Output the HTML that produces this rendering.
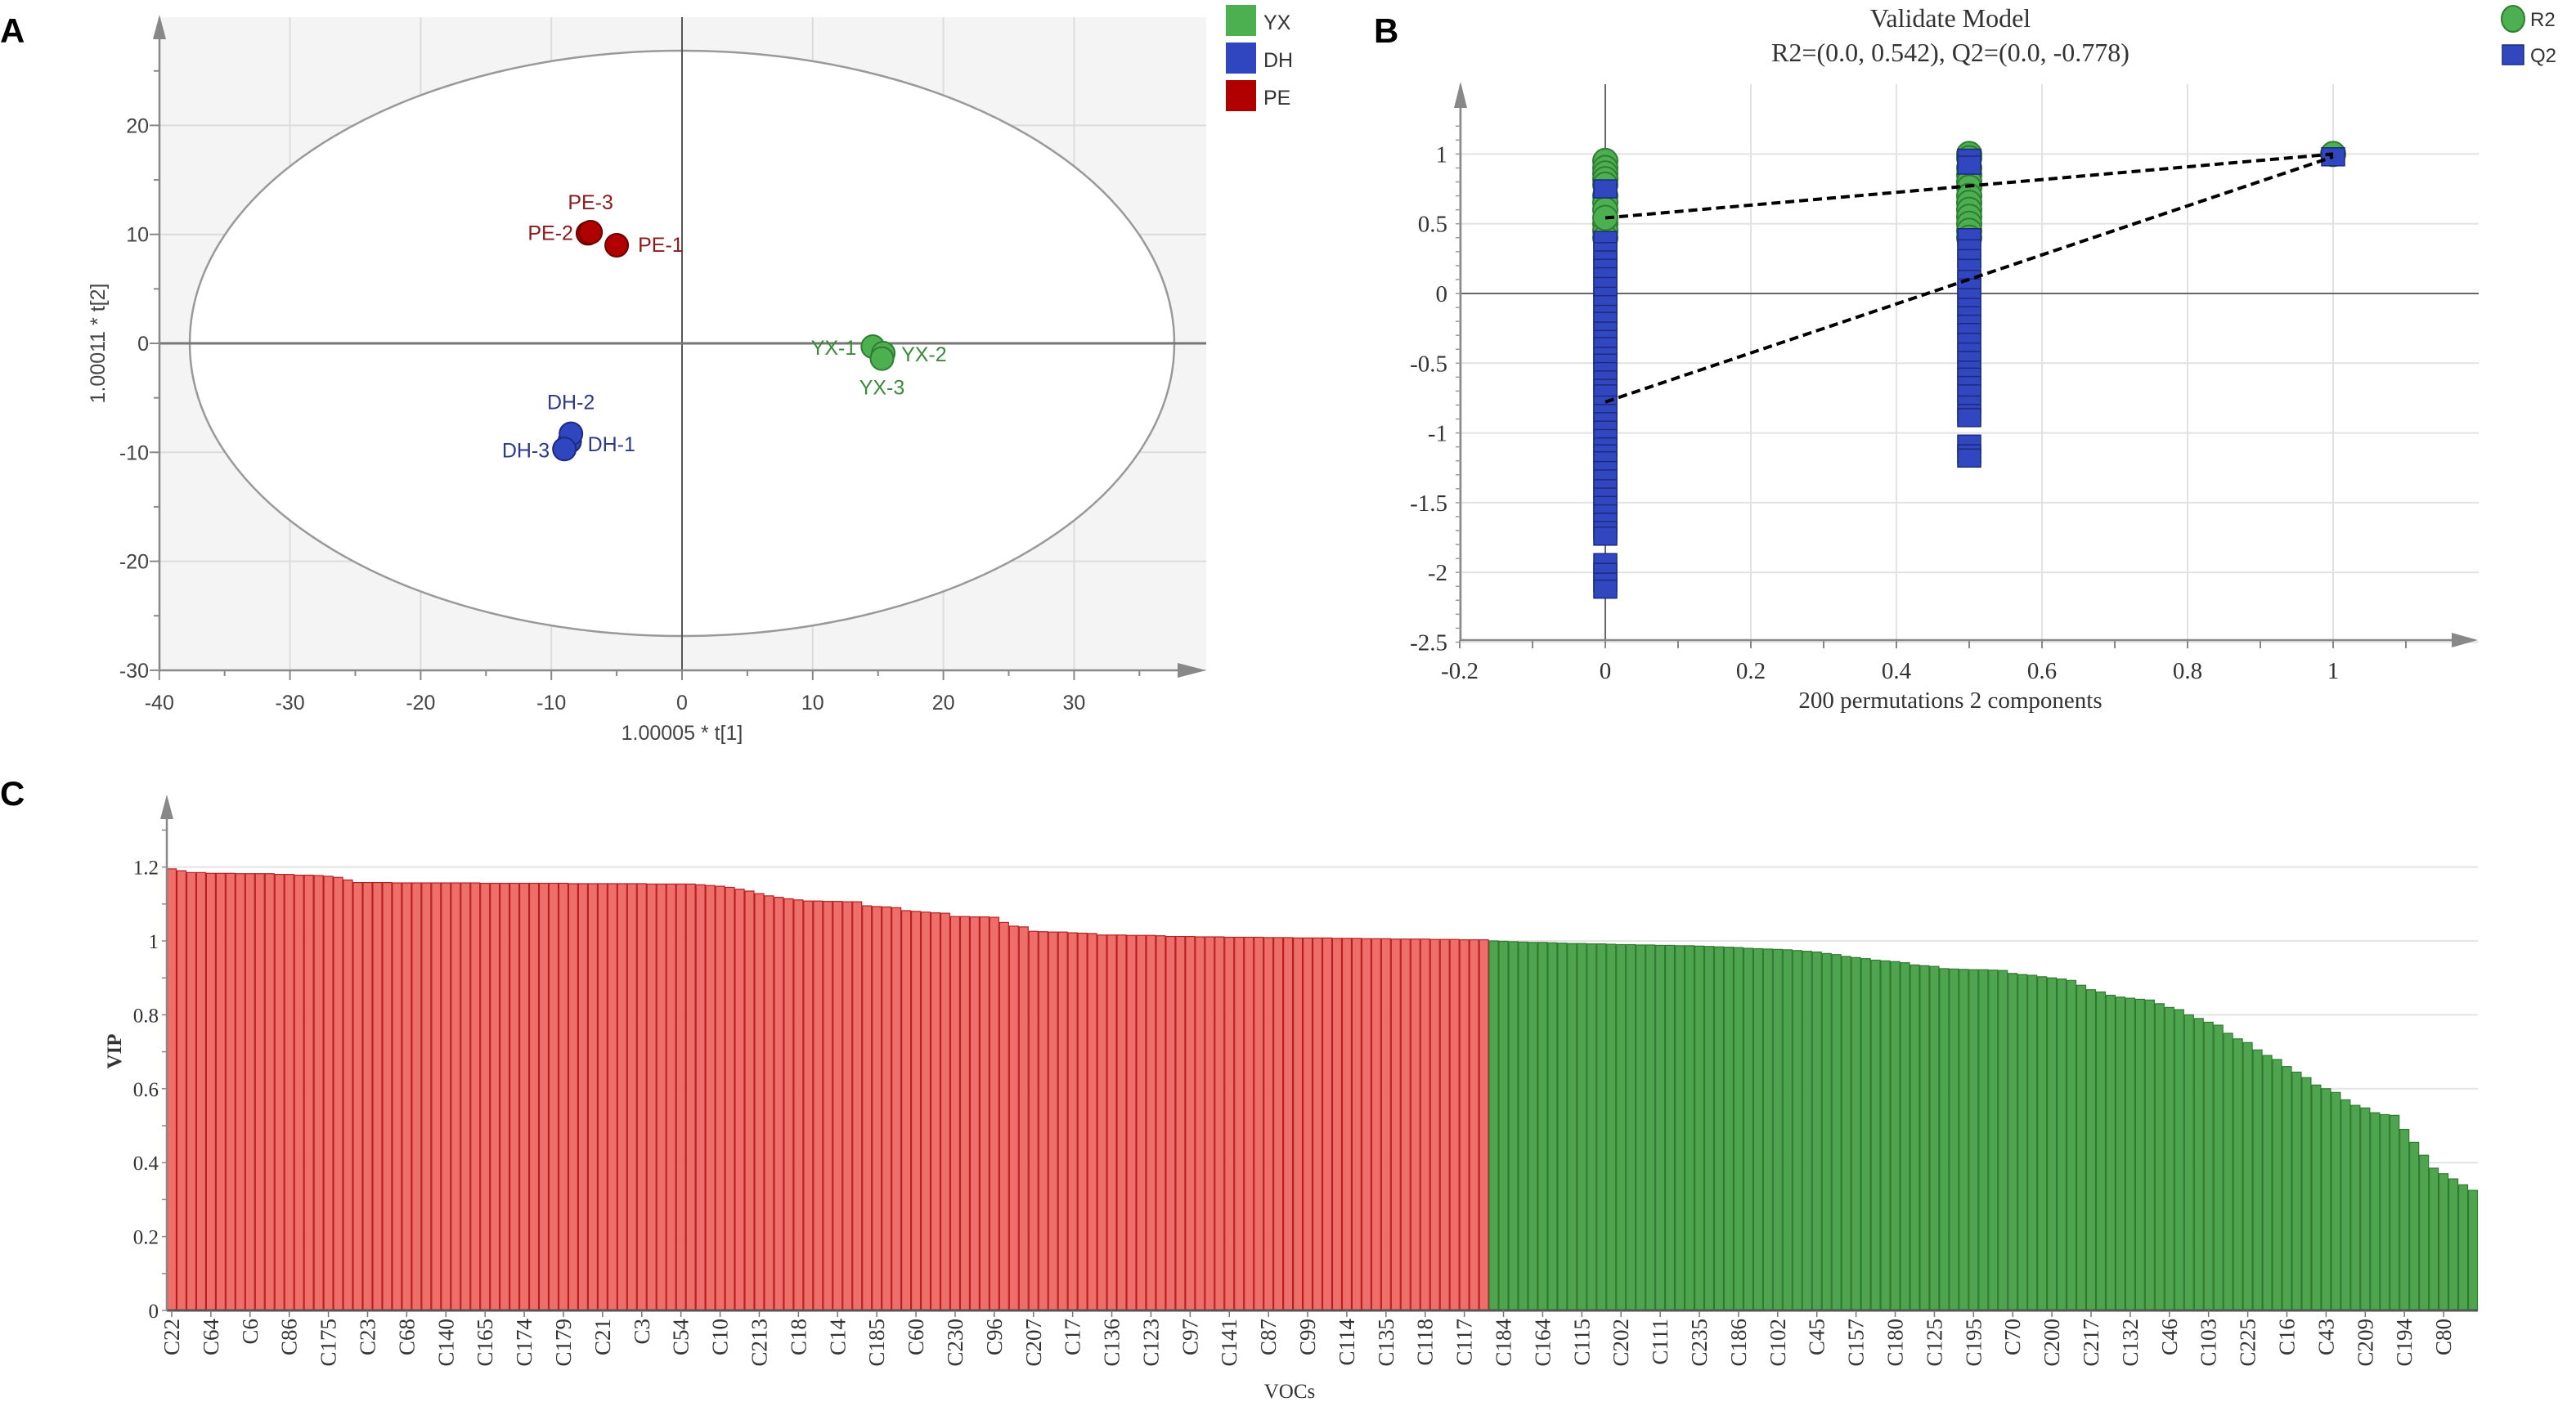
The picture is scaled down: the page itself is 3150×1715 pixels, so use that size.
<!DOCTYPE html>
<html><head><meta charset="utf-8"><style>
html,body{margin:0;padding:0;background:#fff;}
svg{display:block;}
</style></head><body>
<svg id="svg" width="3150" height="1715" viewBox="0 0 3150 1715" xmlns="http://www.w3.org/2000/svg">
<text x="0" y="52" font-family="Liberation Sans, sans-serif" font-weight="bold" font-size="42">A</text>
<text x="1680" y="52" font-family="Liberation Sans, sans-serif" font-weight="bold" font-size="42">B</text>
<text x="0" y="985" font-family="Liberation Sans, sans-serif" font-weight="bold" font-size="42">C</text>
<g id="gA"></g>
<g id="gB"></g>
<g id="gC"></g>
</svg>
<script>
// ---------- Panel A data ----------
const scoreNames = ["PE-1","PE-2","PE-3","DH-1","DH-2","DH-3","YX-1","YX-2","YX-3"];
const scoreT1 = [-5.0,-7.2,-7.0,-8.6,-8.5,-9.0,14.6,15.4,15.3];
const scoreT2 = [9.0,10.1,10.2,-9.0,-8.3,-9.7,-0.3,-0.9,-1.4];
const scoreGroup = ["PE","PE","PE","DH","DH","DH","YX","YX","YX"];
const aXTicks = [-40,-30,-20,-10,0,10,20,30];
const aYTicks = [20,10,0,-10,-20,-30];
const legendA = ["YX","DH","PE"];

// ---------- Panel B data ----------
const r2At0 = [0.95,0.9,0.86,0.82,0.78,0.7,0.65,0.6,0.5,0.45,0.4,0.542];
const q2At0 = [0.75,0.38,0.3,0.24,0.18,0.12,0.05,-0.02,-0.08,-0.15,-0.2,-0.27,-0.33,-0.38,-0.45,-0.5,-0.56,-0.62,-0.68,-0.72,-0.8,-0.86,-0.92,-0.98,-1.04,-1.1,-1.15,-1.2,-1.27,-1.33,-1.4,-1.46,-1.52,-1.58,-1.64,-1.7,-1.74,-1.93,-2.0,-2.07,-2.12];
const r2At05 = [1.0,0.97,0.9,0.85,0.8,0.76,0.7,0.65,0.6,0.55,0.5,0.45,0.4];
const q2At05 = [0.97,0.92,0.4,0.32,0.25,0.18,0.1,0.04,-0.03,-0.1,-0.16,-0.22,-0.28,-0.35,-0.42,-0.48,-0.55,-0.6,-0.66,-0.72,-0.8,-0.86,-0.89,-1.08,-1.15,-1.18];
const r2At1 = [1.0];
const q2At1 = [0.98];
const r2Line = [0.542,1.0];
const q2Line = [-0.778,0.98];
const bXTicks = [-0.2,0,0.2,0.4,0.6,0.8,1];
const bYTicks = [1,0.5,0,-0.5,-1,-1.5,-2,-2.5];

// ---------- Panel C data ----------
const vipValues = [1.195,1.19,
1.185,1.185,1.183,1.183,1.183,1.182,1.182,1.182,1.182,1.18,1.18,1.178,1.178,1.177,1.175,1.172,
1.165,
1.158,1.158,1.158,1.158,1.157,1.157,1.157,1.157,1.157,1.157,1.157,1.157,1.157,1.156,1.156,1.156,1.156,1.156,1.156,1.156,1.156,1.156,1.155,1.155,1.155,1.155,1.155,1.155,1.155,1.155,1.154,1.154,1.154,1.154,1.154,
1.152,1.15,1.148,1.145,1.14,1.135,1.128,1.122,1.118,1.114,1.111,
1.108,1.108,1.107,1.107,1.106,1.106,
1.095,1.093,1.092,1.09,
1.082,1.08,1.078,1.076,1.075,
1.066,1.066,1.065,1.065,1.064,
1.05,1.04,1.038,
1.026,1.025,1.024,1.024,1.022,1.021,1.02,
1.016,1.016,1.016,1.015,1.015,1.015,1.014,
1.012,1.012,1.012,1.011,1.011,1.011,1.01,1.01,1.01,1.01,1.009,1.009,1.009,1.008,1.008,1.008,1.008,1.007,1.007,1.007,1.006,1.006,1.006,1.005,1.005,1.005,1.005,1.004,1.004,1.004,1.003,1.003,1.003,
1.0,0.999,0.998,0.997,0.996,0.996,0.995,0.994,0.993,0.993,0.992,0.992,
0.991,0.990,0.990,0.989,0.989,0.988,0.988,0.987,0.987,
0.986,0.985,0.984,0.983,0.982,
0.98,0.979,0.978,0.977,0.976,
0.974,0.972,0.97,0.966,0.963,
0.958,0.955,0.952,
0.948,0.946,0.944,0.941,
0.935,0.933,0.931,
0.925,0.924,0.923,0.922,0.922,0.921,0.92,
0.912,0.909,0.907,
0.903,0.9,0.897,0.893,
0.88,0.868,0.862,
0.853,0.848,0.845,0.842,0.84,
0.83,0.82,0.814,
0.8,0.79,0.78,0.772,
0.75,0.735,0.725,
0.705,0.69,0.679,
0.66,0.645,0.63,
0.61,0.6,0.59,
0.57,0.555,0.548,
0.535,0.53,0.528,
0.49,0.455,
0.42,0.385,
0.37,0.356,
0.34,0.325];
const vocLabels = ["C22","C64","C6","C86","C175","C23","C68","C140","C165","C174","C179","C21","C3","C54","C10","C213","C18","C14","C185","C60","C230","C96","C207","C17","C136","C123","C97","C141","C87","C99","C114","C135","C118","C117","C184","C164","C115","C202","C111","C235","C186","C102","C45","C157","C180","C125","C195","C70","C200","C217","C132","C46","C103","C225","C16","C43","C209","C194","C80"];
const cYTicks = [0,0.2,0.4,0.6,0.8,1,1.2];

const NS = "http://www.w3.org/2000/svg";
function mk(parent, tag, attrs, text){
  const e = document.createElementNS(NS, tag);
  for (const k in attrs) e.setAttribute(k, attrs[k]);
  if (text !== undefined) e.textContent = text;
  parent.appendChild(e);
  return e;
}

// ================= Panel A =================
(function(){
  const g = document.getElementById('gA');
  const xS = v => 834 + v*15.98;
  const yS = v => 420 - v*13.33*1.0;
  const L=195,R=1475,T=21,B=820;
  let el;
  el = mk(g,'rect',{x:L,y:T,width:R-L,height:B-T,fill:'#f4f4f4'});
  
  
  for (const t of aXTicks){
    el = mk(g,'line',{x1:xS(t),x2:xS(t),y1:T,y2:B,stroke:'#dcdcdc','stroke-width':2});
    
    
  }
  for (const t of aYTicks){
    el = mk(g,'line',{x1:L,x2:R,y1:yS(t),y2:yS(t),stroke:'#dcdcdc','stroke-width':2});
    
    
  }
  el = mk(g,'ellipse',{cx:xS(0),cy:yS(0),rx:602,ry:358,fill:'#fff',stroke:'#999','stroke-width':2.5});
  
  
  el = mk(g,'line',{x1:xS(0),x2:xS(0),y1:T,y2:B,stroke:'#555','stroke-width':2});
  
  
  el = mk(g,'line',{x1:L,x2:R,y1:yS(0),y2:yS(0),stroke:'#777','stroke-width':3});
  
  
  el = mk(g,'line',{x1:L,x2:L,y1:40,y2:B,stroke:'#888','stroke-width':2.5});
  
  
  el = mk(g,'polygon',{points:`${L-8},48 ${L+8},48 ${L},18`,fill:'#888'});
  
  
  el = mk(g,'line',{x1:L,x2:1455,y1:B,y2:B,stroke:'#888','stroke-width':2.5});
  
  
  el = mk(g,'polygon',{points:`1440,811 1440,829 1475,820`,fill:'#888'});
  
  
  for (let t=-40;t<=35;t+=5){
    el = mk(g,'line',{x1:xS(t),x2:xS(t),y1:B,y2:B+(t%10===0?12:7),stroke:'#888','stroke-width':2});
    
    
  }
  for (let t=-30;t<=25;t+=5){
    el = mk(g,'line',{x1:L-(t%10===0?12:7),x2:L,y1:yS(t),y2:yS(t),stroke:'#888','stroke-width':2});
    
    
  }
  for (const t of aXTicks){
    el = mk(g,'text',{x:xS(t),y:868,'text-anchor':'middle','font-family':'Liberation Sans, sans-serif','font-size':25,fill:'#444'},String(t));
    
    
  }
  for (const t of aYTicks){
    el = mk(g,'text',{x:182,y:yS(t)+9,'text-anchor':'end','font-family':'Liberation Sans, sans-serif','font-size':25,fill:'#444'},String(t));
    
    
  }
  el = mk(g,'text',{x:834,y:905,'text-anchor':'middle','font-family':'Liberation Sans, sans-serif','font-size':25,fill:'#444'},'1.00005 * t[1]');
  
  
  el = mk(g,'text',{x:0,y:0,'text-anchor':'middle','font-family':'Liberation Sans, sans-serif','font-size':25,fill:'#444',transform:'translate(128,420) rotate(-90)'},'1.00011 * t[2]');
  
  
  const fills={PE:'#b00000',DH:'#2f46c0',YX:'#4caf50'};
  const strokes={PE:'#6a0000',DH:'#1c2a80',YX:'#2e7d32'};
  const labCol={PE:'#8b1a1a',DH:'#2d3a8c',YX:'#3a8a3a'};
  const labOff={"PE-1":[26,8,'start'],"PE-2":[-18,8,'end'],"PE-3":[0,-28,'middle'],"DH-1":[22,12,'start'],"DH-2":[0,-30,'middle'],"DH-3":[-18,10,'end'],"YX-1":[-20,10,'end'],"YX-2":[22,10,'start'],"YX-3":[0,44,'middle']};
  for (let i=0;i<scoreNames.length;i++){
    el = mk(g,'circle',{cx:xS(scoreT1[i]),cy:yS(scoreT2[i]),r:14,fill:fills[scoreGroup[i]],stroke:strokes[scoreGroup[i]],'stroke-width':2});
    
    
  }
  for (let i=0;i<scoreNames.length;i++){
    const o=labOff[scoreNames[i]];
    el = mk(g,'text',{x:xS(scoreT1[i])+o[0],y:yS(scoreT2[i])+o[1],'text-anchor':o[2],'font-family':'Liberation Sans, sans-serif','font-size':25,fill:labCol[scoreGroup[i]]},scoreNames[i]);
    
    
  }
  for (let i=0;i<legendA.length;i++){
    const y=6+i*46;
    el = mk(g,'rect',{x:1499,y:y,width:37,height:38,fill:fills[legendA[i]]});
    
    
    el = mk(g,'text',{x:1545,y:y+30,'font-family':'Liberation Sans, sans-serif','font-size':25,fill:'#333'},legendA[i]);
    
    
  }
})();

// ================= Panel B =================
(function(){
  const g = document.getElementById('gB');
  const xS = v => 1963 + v*890;
  const yS = v => 359 - v*170.6;
  const L=1786,R=3031,T=103,B=783;
  let el;
  for (const t of bYTicks){
    el = mk(g,'line',{x1:L,x2:R,y1:yS(t),y2:yS(t),stroke:'#e2e2e2','stroke-width':2});
    
    
  }
  for (const t of bXTicks){
    el = mk(g,'line',{x1:xS(t),x2:xS(t),y1:T,y2:B,stroke:'#e2e2e2','stroke-width':2});
    
    
  }
  el = mk(g,'line',{x1:L,x2:R,y1:yS(0),y2:yS(0),stroke:'#666','stroke-width':2});
  
  
  el = mk(g,'line',{x1:xS(0),x2:xS(0),y1:T,y2:B,stroke:'#666','stroke-width':2});
  
  
  el = mk(g,'line',{x1:L,x2:L,y1:125,y2:B,stroke:'#888','stroke-width':2.5});
  
  
  el = mk(g,'polygon',{points:`${L-8},132 ${L+8},132 ${L},100`,fill:'#888'});
  
  
  el = mk(g,'line',{x1:L,x2:3005,y1:B,y2:B,stroke:'#888','stroke-width':2.5});
  
  
  el = mk(g,'polygon',{points:`2998,774 2998,792 3030,783`,fill:'#888'});
  
  
  for (let t=-0.2;t<=1.11;t+=0.1){
    el = mk(g,'line',{x1:xS(t),x2:xS(t),y1:B,y2:B+10,stroke:'#888','stroke-width':2});
    
    
  }
  for (let t=-2.5;t<=1.3;t+=0.1){
    el = mk(g,'line',{x1:L-6,x2:L,y1:yS(t),y2:yS(t),stroke:'#999','stroke-width':1.5});
    
    
  }
  for (const t of bXTicks){
    el = mk(g,'text',{x:xS(t),y:830,'text-anchor':'middle','font-family':'Liberation Serif, serif','font-size':29,fill:'#333'},String(t));
    
    
  }
  for (const t of bYTicks){
    el = mk(g,'text',{x:1770,y:yS(t)+10,'text-anchor':'end','font-family':'Liberation Serif, serif','font-size':29,fill:'#333'},String(t));
    
    
  }
  el = mk(g,'text',{x:2385,y:866,'text-anchor':'middle','font-family':'Liberation Serif, serif','font-size':29,fill:'#333'},'200 permutations 2 components');
  
  
  el = mk(g,'text',{x:2385,y:33,'text-anchor':'middle','font-family':'Liberation Serif, serif','font-size':32,fill:'#333'},'Validate Model');
  
  
  el = mk(g,'text',{x:2385,y:75,'text-anchor':'middle','font-family':'Liberation Serif, serif','font-size':32,fill:'#333'},'R2=(0.0, 0.542), Q2=(0.0, -0.778)');
  
  
  function circles(xv, arr){
    for (const v of arr){
      const c = mk(g,'circle',{cx:xS(xv),cy:yS(v),r:15,fill:'#4caf50',stroke:'#2e7d32','stroke-width':2});
      
      
    }
  }
  function squares(xv, arr){
    for (const v of arr){
      const s = mk(g,'rect',{x:xS(xv)-14,y:yS(v)-11,width:28,height:22,fill:'#3047c0',stroke:'#1c2a80','stroke-width':1.5});
      
      
    }
  }
  circles(0, r2At0.slice(0,-1)); circles(0.5, r2At05);
  squares(0, q2At0); squares(0.5, q2At05);
  circles(0, r2At0.slice(-1)); circles(1, r2At1); squares(1, q2At1);
  el = mk(g,'line',{x1:xS(0),y1:yS(r2Line[0]),x2:xS(1),y2:yS(r2Line[1]),stroke:'#000','stroke-width':4,'stroke-dasharray':'11 6'});
  
  
  el = mk(g,'line',{x1:xS(0),y1:yS(q2Line[0]),x2:xS(1),y2:yS(q2Line[1]),stroke:'#000','stroke-width':4,'stroke-dasharray':'11 6'});
  
  
  el = mk(g,'ellipse',{cx:3073,cy:23,rx:14,ry:16,fill:'#4caf50',stroke:'#2e7d32','stroke-width':2});
  
  
  el = mk(g,'text',{x:3094,y:32,'font-family':'Liberation Sans, sans-serif','font-size':24,fill:'#333'},'R2');
  
  
  el = mk(g,'rect',{x:3060,y:55,width:26,height:24,fill:'#3047c0',stroke:'#1c2a80','stroke-width':1.5});
  
  
  el = mk(g,'text',{x:3094,y:76,'font-family':'Liberation Sans, sans-serif','font-size':24,fill:'#333'},'Q2');
  
  
})();

// ================= Panel C =================
(function(){
  const g = document.getElementById('gC');
  const L=204, R=3030, base=1603;
  const yS = v => base - v*452;
  const bw = (R-L)/vipValues.length;
  const xS = i => L + i*bw;
  let el;
  for (const t of cYTicks){
    el = mk(g,'line',{x1:L,x2:R,y1:yS(t),y2:yS(t),stroke:'#e4e4e4','stroke-width':2});
    
    
  }
  for (let i=0;i<vipValues.length;i++){
    const v=vipValues[i], red=v>1;
    el = mk(g,'rect',{x:xS(i)+0.5,y:yS(v),width:bw-1,height:base-yS(v),fill:red?'#ee6e6c':'#4fa54f',stroke:red?'#b82020':'#2f7a2f','stroke-width':1.2});
    
    
  }
  el = mk(g,'line',{x1:L,x2:R,y1:base,y2:base,stroke:'#555','stroke-width':3});
  
  
  el = mk(g,'line',{x1:L,x2:L,y1:995,y2:base,stroke:'#888','stroke-width':2.5});
  
  
  el = mk(g,'polygon',{points:`${L-8},1002 ${L+8},1002 ${L},972`,fill:'#888'});
  
  
  for (let t=0;t<=1.31;t+=0.1){
    el = mk(g,'line',{x1:L-6,x2:L,y1:yS(t),y2:yS(t),stroke:'#888','stroke-width':1.5});
    
    
  }
  for (const t of cYTicks){
    el = mk(g,'text',{x:194,y:yS(t)+9,'text-anchor':'end','font-family':'Liberation Serif, serif','font-size':25,fill:'#333'},String(t));
    
    
  }
  for (let k=0;k<vocLabels.length;k++){
    const cx = xS(k*4)+bw/2;
    el = mk(g,'line',{x1:cx,x2:cx,y1:base,y2:base+8,stroke:'#777','stroke-width':1.5});
    
    
    el = mk(g,'text',{x:0,y:0,'text-anchor':'end','font-family':'Liberation Serif, serif','font-size':27,fill:'#333',transform:`translate(${cx+9},1613) rotate(-90)`},vocLabels[k]);
    
    
  }
  el = mk(g,'text',{x:1577,y:1710,'text-anchor':'middle','font-family':'Liberation Serif, serif','font-size':25,fill:'#333'},'VOCs');
  
  
  el = mk(g,'text',{x:0,y:0,'text-anchor':'middle','font-family':'Liberation Serif, serif','font-size':25,'font-weight':'bold',fill:'#333',transform:'translate(148,1286) rotate(-90)'},'VIP');
  
  
})();
</script>
</body></html>
